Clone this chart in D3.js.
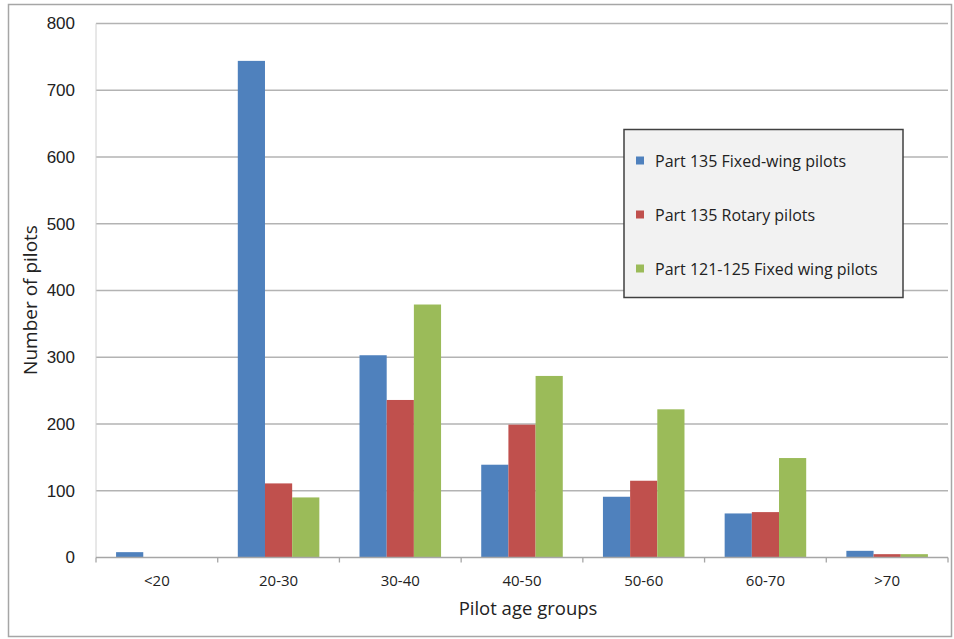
<!DOCTYPE html>
<html>
<head>
<meta charset="utf-8">
<script src="https://cdn.jsdelivr.net/npm/d3@7"></script>
<style>
  html, body { margin: 0; padding: 0; background: #fff; }
  svg { display: block; font-family: "Open Sans", "Noto Sans", sans-serif; }
</style>
</head>
<body>
<svg id="chart" width="954" height="639"></svg>
<script>
// Pilot counts by age group
const categories = ["<20", "20-30", "30-40", "40-50", "50-60", "60-70", ">70"];
const seriesNames = ["Part 135 Fixed-wing pilots", "Part 135 Rotary pilots", "Part 121-125 Fixed wing pilots"];
const fixedWing135 = [8, 744, 303, 139, 91, 66, 10];
const rotary135 = [0, 111, 236, 199, 115, 68, 5];
const fixedWing121 = [0, 90, 379, 272, 222, 149, 5];
const yTicks = [0, 100, 200, 300, 400, 500, 600, 700, 800];
const colors = ["#4f81bd", "#c0504d", "#9bbb59"];

const series = [fixedWing135, rotary135, fixedWing121];

const svg = d3.select("#chart");

// outer frame
svg.append("rect")
  .attr("x", 8.5).attr("y", 4.5).attr("width", 943).attr("height", 632)
  .attr("fill", "#fff").attr("stroke", "#a6a6a6").attr("stroke-width", 1.5);

const plot = { left: 96, right: 948, top: 23.5, bottom: 557.5 };

const x = d3.scaleBand().domain(categories).range([plot.left, plot.right])
  .paddingInner(0.33).paddingOuter(0.165);
const band = d3.scaleBand().domain(d3.range(series.length)).range([0, x.bandwidth()]);
const y = d3.scaleLinear().domain([0, 800]).range([plot.bottom, plot.top]);

// horizontal gridlines
svg.append("g").selectAll("line").data(yTicks.filter(d => d > 0)).join("line")
  .attr("x1", plot.left).attr("x2", plot.right)
  .attr("y1", d => y(d)).attr("y2", d => y(d))
  .attr("stroke", "#b3b3b3").attr("stroke-width", 1.3);

// y axis line + labels
svg.append("line")
  .attr("x1", plot.left).attr("x2", plot.left)
  .attr("y1", plot.top).attr("y2", plot.bottom)
  .attr("stroke", "#d0d0d0").attr("stroke-width", 1);

const yAxis = d3.axisLeft(y).tickValues(yTicks).tickSize(0).tickPadding(21);
const yg = svg.append("g").attr("transform", `translate(${plot.left},0)`).call(yAxis);
yg.select(".domain").remove();
yg.selectAll("text").attr("font-size", 17).attr("fill", "#222");

// bars
const groups = svg.append("g").selectAll("g").data(series).join("g")
  .attr("fill", (d, i) => colors[i]);
groups.each(function(vals, si) {
  d3.select(this).selectAll("rect").data(vals.map((v, ci) => ({ v, c: categories[ci] }))).join("rect")
    .attr("x", d => x(d.c) + band(si))
    .attr("width", band.bandwidth())
    .attr("y", d => y(d.v))
    .attr("height", d => y(0) - y(d.v));
});

// x axis
const xAxisScale = d3.scalePoint().domain(d3.range(categories.length + 1))
  .range([plot.left, plot.right]);
svg.append("line")
  .attr("x1", plot.left).attr("x2", plot.right)
  .attr("y1", plot.bottom).attr("y2", plot.bottom)
  .attr("stroke", "#a6a6a6").attr("stroke-width", 1.5);
svg.append("g").selectAll("line").data(d3.range(categories.length + 1)).join("line")
  .attr("x1", d => xAxisScale(d)).attr("x2", d => xAxisScale(d))
  .attr("y1", plot.bottom).attr("y2", plot.bottom + 5)
  .attr("stroke", "#a6a6a6").attr("stroke-width", 1.3);
svg.append("g").selectAll("text").data(categories).join("text")
  .attr("x", d => x(d) + x.bandwidth() / 2)
  .attr("y", 586)
  .attr("text-anchor", "middle")
  .attr("font-size", 15).attr("fill", "#222")
  .text(d => d);

// axis titles
svg.append("text")
  .attr("x", 528).attr("y", 615)
  .attr("text-anchor", "middle").attr("font-size", 18.5).attr("fill", "#222")
  .text("Pilot age groups");
svg.append("text")
  .attr("transform", `translate(37,300) rotate(-90)`)
  .attr("text-anchor", "middle").attr("font-size", 19).attr("fill", "#222")
  .text("Number of pilots");

// legend
const lg = svg.append("g");
lg.append("rect")
  .attr("x", 624).attr("y", 129.5).attr("width", 279).attr("height", 168)
  .attr("fill", "#f2f2f2").attr("stroke", "#404040").attr("stroke-width", 1.5);
const ly = d3.scalePoint().domain(seriesNames).range([161, 269]);
seriesNames.forEach((name, i) => {
  lg.append("rect")
    .attr("x", 636).attr("y", ly(name) - 4.5).attr("width", 8).attr("height", 8)
    .attr("fill", colors[i]);
  lg.append("text")
    .attr("x", 655).attr("y", ly(name)).attr("dy", "0.35em")
    .attr("font-size", 16).attr("fill", "#222")
    .text(name);
});
</script>
</body>
</html>
